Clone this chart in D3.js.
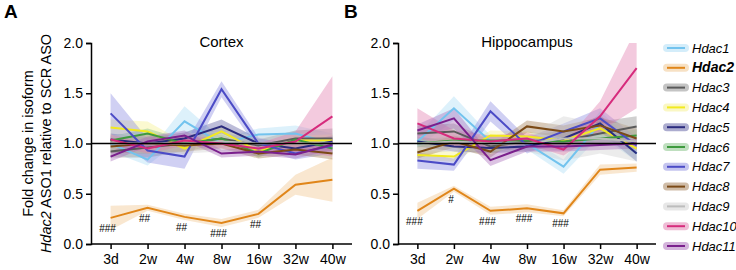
<!DOCTYPE html>
<html>
<head>
<meta charset="utf-8">
<script src="https://cdn.jsdelivr.net/npm/d3@7"></script>
<style>
  body { margin: 0; background: #fff; }
  text { font-family: "Liberation Sans", Arial, sans-serif; }
</style>
</head>
<body>
<svg width="736" height="270"></svg>
<script>
// Data
const ages  = ['3d', '2w', '4w', '8w', '16w', '32w', '40w'];
const genes = ['Hdac1', 'Hdac2', 'Hdac3', 'Hdac4', 'Hdac5', 'Hdac6', 'Hdac7', 'Hdac8', 'Hdac9', 'Hdac10', 'Hdac11'];
const yTicks = [0, 0.5, 1.0, 1.5, 2.0];

// Cortex: mean fold change, one row per gene (same order as genes)
const cortexMean = [
  [1.00, 0.84, 1.22, 1.00, 1.09, 1.10, 1.00],
  [0.26, 0.36, 0.27, 0.21, 0.30, 0.59, 0.64],
  [0.92, 0.96, 1.00, 1.05, 0.98, 1.05, 1.05],
  [1.16, 1.12, 0.95, 1.12, 0.92, 1.03, 1.03],
  [1.04, 1.00, 1.05, 1.17, 1.00, 0.95, 1.02],
  [1.03, 1.10, 1.00, 1.05, 0.90, 1.04, 0.95],
  [1.30, 0.93, 0.87, 1.54, 1.00, 0.90, 0.98],
  [0.97, 1.00, 0.98, 1.00, 0.90, 0.94, 0.90],
  [1.00, 1.00, 1.00, 1.02, 1.00, 1.00, 1.00],
  [1.04, 0.95, 1.03, 1.00, 0.95, 1.02, 1.27],
  [0.87, 1.02, 1.08, 0.90, 0.92, 0.89, 0.99]
];
const cortexErr = [
  [0.08, 0.06, 0.15, 0.05, 0.06, 0.08, 0.10],
  [0.12, 0.03, 0.03, 0.04, 0.04, 0.10, 0.22],
  [0.06, 0.10, 0.08, 0.06, 0.06, 0.08, 0.10],
  [0.08, 0.10, 0.06, 0.05, 0.05, 0.05, 0.06],
  [0.06, 0.06, 0.06, 0.07, 0.05, 0.05, 0.06],
  [0.04, 0.05, 0.04, 0.04, 0.04, 0.04, 0.05],
  [0.20, 0.12, 0.12, 0.08, 0.06, 0.06, 0.08],
  [0.06, 0.10, 0.06, 0.05, 0.05, 0.05, 0.06],
  [0.08, 0.10, 0.10, 0.10, 0.08, 0.10, 0.12],
  [0.05, 0.05, 0.05, 0.05, 0.05, 0.10, 0.40],
  [0.05, 0.05, 0.05, 0.04, 0.04, 0.04, 0.06]
];

// Hippocampus
const hippoMean = [
  [1.02, 1.35, 1.02, 1.00, 0.77, 1.20, 0.90],
  [0.33, 0.55, 0.33, 0.355, 0.305, 0.74, 0.76],
  [1.10, 1.12, 0.97, 1.02, 1.03, 1.10, 1.17],
  [0.885, 0.87, 1.08, 1.07, 1.03, 1.15, 0.95],
  [1.02, 0.97, 0.955, 0.97, 1.05, 1.20, 0.90],
  [1.00, 1.03, 1.03, 1.03, 1.02, 1.05, 1.08],
  [0.83, 0.79, 1.32, 0.98, 1.12, 1.25, 0.98],
  [0.91, 1.02, 0.92, 1.17, 1.12, 1.18, 1.05],
  [1.00, 1.02, 1.00, 1.00, 1.05, 1.05, 1.02],
  [1.20, 1.05, 1.02, 1.05, 0.94, 1.27, 1.75],
  [1.13, 1.25, 0.835, 0.97, 0.97, 0.985, 1.00]
];
const hippoErr = [
  [0.06, 0.12, 0.06, 0.06, 0.07, 0.12, 0.08],
  [0.08, 0.03, 0.04, 0.04, 0.03, 0.05, 0.04],
  [0.08, 0.08, 0.06, 0.06, 0.10, 0.12, 0.10],
  [0.05, 0.05, 0.05, 0.05, 0.05, 0.05, 0.06],
  [0.05, 0.05, 0.05, 0.05, 0.06, 0.08, 0.08],
  [0.04, 0.04, 0.04, 0.04, 0.04, 0.05, 0.06],
  [0.08, 0.06, 0.10, 0.08, 0.08, 0.10, 0.08],
  [0.06, 0.06, 0.06, 0.06, 0.06, 0.08, 0.10],
  [0.10, 0.10, 0.08, 0.08, 0.22, 0.15, 0.20],
  [0.15, 0.08, 0.06, 0.06, 0.06, 0.15, 0.40],
  [0.06, 0.10, 0.06, 0.05, 0.05, 0.05, 0.05]
];

// Significance marks under Hdac2
const cortexSig = ['###', '##', '##', '###', '##', '', ''];
const hippoSig  = ['###', '#', '###', '###', '###', '', ''];

const lineColors = ['#72c3ee', '#e0861a', '#5a5a5a', '#f2ea1f', '#2b2b7e', '#3e9a3e',
                    '#4b4bc6', '#7b4a16', '#bdbdbd', '#d62b7c', '#7a1f8c'];
const bandColors = ['#a9dcf6', '#f0c48a', '#8a8a8a', '#f6f08a', '#5a5aa0', '#80c080',
                    '#8a8ae0', '#a07a50', '#cfcfcf', '#e07aac', '#a868b8'];

const svg = d3.select('svg');

const y = d3.scaleLinear().domain([0, 2]).range([244, 43]);

function panel(opts) {
  const x = d3.scalePoint().domain(ages).range(opts.xRange).padding(0.53);
  const g = svg.append('g');

  const clipId = 'clip-' + opts.key;
  svg.append('clipPath').attr('id', clipId)
    .append('rect')
      .attr('x', opts.xRange[0]).attr('y', y(2))
      .attr('width', opts.xRange[1] - opts.xRange[0]).attr('height', y(0) - y(2));

  const series = genes.map((name, i) => ({
    name, i,
    pts: ages.map((a, j) => ({ a, v: opts.mean[i][j], e: opts.err[i][j] }))
  }));

  const area = d3.area()
    .x(d => x(d.a))
    .y0(d => y(d.v - d.e))
    .y1(d => y(d.v + d.e));
  const line = d3.line()
    .x(d => x(d.a))
    .y(d => y(d.v));

  const plot = g.append('g').attr('clip-path', `url(#${clipId})`);

  plot.selectAll('path.band').data(series)
    .join('path')
      .attr('class', 'band')
      .attr('d', d => area(d.pts))
      .attr('fill', d => bandColors[d.i])
      .attr('fill-opacity', 0.4);

  // reference line at 1.0
  g.append('line')
    .attr('x1', opts.xRange[0]).attr('x2', opts.xRange[1])
    .attr('y1', y(1)).attr('y2', y(1))
    .attr('stroke', '#000').attr('stroke-width', 1.5);

  plot.selectAll('path.line').data(series)
    .join('path')
      .attr('class', 'line')
      .attr('d', d => line(d.pts))
      .attr('fill', 'none')
      .attr('stroke', d => lineColors[d.i])
      .attr('stroke-width', 2)
      .attr('stroke-linejoin', 'miter');

  // significance marks
  g.selectAll('text.sig').data(ages)
    .join('text')
      .attr('class', 'sig')
      .attr('x', d => x(d) - 3)
      .attr('y', (d, j) => y(opts.mean[1][j]) + 14)
      .attr('text-anchor', 'middle')
      .attr('font-size', 10)
      .attr('font-family', 'DejaVu Serif, serif')
      .text((d, j) => opts.sig[j]);

  // axes
  const xAxis = g.append('g')
    .attr('transform', `translate(0,${y(0)})`)
    .call(d3.axisBottom(x).tickSizeOuter(0).tickSize(5).tickPadding(5));
  const yAxis = g.append('g')
    .attr('transform', `translate(${opts.xRange[0]},0)`)
    .call(d3.axisLeft(y).tickValues(yTicks).tickFormat(d3.format('.1f'))
      .tickSizeOuter(0).tickSize(5).tickPadding(3));
  [xAxis, yAxis].forEach(a => {
    a.selectAll('path, line').attr('stroke', '#000').attr('stroke-width', 1.5);
    a.selectAll('text').attr('font-size', 14).attr('fill', '#000')
      .attr('font-family', '"Liberation Sans", Arial, sans-serif');
  });
  xAxis.select('path').attr('d', `M${opts.xRange[0]},0H${opts.xRange[1]}`);

  // title and panel letter
  g.append('text')
    .attr('x', (x(ages[0]) + x(ages[ages.length - 1])) / 2)
    .attr('y', 47)
    .attr('text-anchor', 'middle')
    .attr('font-size', 15)
    .text(opts.title);
  g.append('text')
    .attr('x', opts.letterX).attr('y', 18)
    .attr('font-size', 19).attr('font-weight', 'bold')
    .text(opts.letter);
}

panel({ key: 'a', xRange: [91, 352], mean: cortexMean, err: cortexErr, sig: cortexSig,
        title: 'Cortex', letter: 'A', letterX: 4 });
panel({ key: 'b', xRange: [398, 656], mean: hippoMean, err: hippoErr, sig: hippoSig,
        title: 'Hippocampus', letter: 'B', letterX: 344 });

// y axis title
const yt = svg.append('text')
  .attr('transform', `translate(33,${(y(0) + y(2)) / 2}) rotate(-90)`)
  .attr('text-anchor', 'middle')
  .attr('font-size', 14.5);
yt.append('tspan').attr('x', 0).attr('dy', 0).text('Fold change in isoform');
const l2 = yt.append('tspan').attr('x', 0).attr('dy', 18);
l2.append('tspan').attr('font-style', 'italic').text('Hdac2');
l2.append('tspan').text(' ASO1 relative to SCR ASO');

// legend
const legend = svg.append('g');
const ly = d3.scalePoint().domain(genes).range([48, 246]);
const rows = legend.selectAll('g').data(genes)
  .join('g')
    .attr('transform', d => `translate(0,${ly(d)})`);
rows.append('line')
  .attr('x1', 667).attr('x2', 685)
  .attr('stroke', (d, i) => bandColors[i])
  .attr('stroke-opacity', 0.5)
  .attr('stroke-width', 8)
  .attr('stroke-linecap', 'round');
rows.append('line')
  .attr('x1', 667).attr('x2', 685)
  .attr('stroke', (d, i) => lineColors[i])
  .attr('stroke-width', 2);
rows.append('text')
  .attr('x', 692).attr('y', 4.5)
  .attr('font-style', 'italic')
  .attr('font-size', d => d === 'Hdac2' ? 14 : 13)
  .attr('font-weight', d => d === 'Hdac2' ? 'bold' : 'normal')
  .text(d => d);
</script>
</body>
</html>
